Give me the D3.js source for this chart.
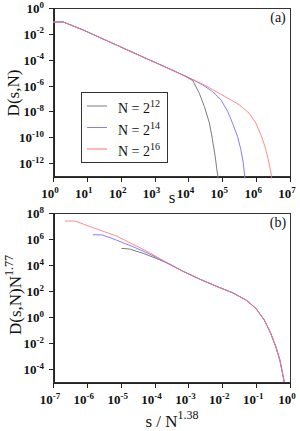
<!DOCTYPE html>
<html lang="en">
  <head>
    <meta charset="UTF-8" />
    <title>D(s,N)</title>
    <style>
        body { margin: 0; background: #fff; }
        svg { display: block; font-family: "Liberation Serif", "DejaVu Serif", serif; }
        .axis path, .axis line { stroke: #222; stroke-width: 1; shape-rendering: crispEdges; }
        .frame { fill: none; stroke: #333; stroke-width: 1; shape-rendering: crispEdges; }
        .curve { fill: none; stroke-width: 1; }
    </style>
    <script src="https://d3js.org/d3.v7.min.js"></script>
  </head>
  <body>
    <div id="chart"></div>
    <script>
        // values, as [log10 x, log10 y]
        const seriesNames = ["N = 2^12", "N = 2^14", "N = 2^16"];
        const seriesExp = ["12", "14", "16"];
        const seriesColors = ["#7c7c7c", "#7f7fff", "#ff7070"];

        const topGray = [[0,-1.08],[0.30,-1.08],[0.89,-1.70],[1.87,-2.86],[2.85,-4.02],[3.44,-4.71],[3.88,-5.24],
                         [4.13,-5.62],[4.32,-6.59],[4.47,-7.62],[4.62,-8.90],[4.71,-10.19],[4.79,-11.48],[4.84,-12.51],[4.88,-13.2]];
        const topBlue = [[0,-1.08],[0.30,-1.08],[0.89,-1.70],[1.87,-2.86],[2.85,-4.02],[3.44,-4.71],[3.88,-5.24],
                         [4.13,-5.54],[4.42,-5.95],[4.71,-6.46],[4.96,-7.10],[5.16,-8.01],[5.30,-8.90],[5.45,-9.93],[5.55,-10.97],[5.62,-11.99],[5.67,-13.2]];
        const topRed  = [[0,-1.08],[0.30,-1.08],[0.89,-1.70],[1.87,-2.86],[2.85,-4.02],[3.44,-4.71],[3.88,-5.24],
                         [4.13,-5.54],[4.42,-5.90],[4.71,-6.30],[5.11,-6.90],[5.50,-7.49],[5.79,-8.13],[5.99,-8.90],[6.14,-9.81],[6.26,-10.71],[6.36,-11.74],[6.43,-12.64],[6.46,-13.2]];

        const botGray = [[-4.98,5.28],[-4.74,5.23],[-4.34,4.90],[-3.95,4.51],[-3.58,4.10],[-3.17,3.52],
                         [-2.68,2.93],[-2.19,2.38],[-1.70,1.87],[-1.30,1.31],[-1.01,0.67],[-0.76,-0.23],[-0.57,-1.25],[-0.42,-2.28],[-0.30,-3.31],[-0.22,-4.33],[-0.17,-5.0]];
        const botBlue = [[-5.82,6.33],[-5.54,6.31],[-5.13,5.92],[-4.64,5.41],[-4.15,4.85],[-3.66,4.18],[-3.17,3.53],
                         [-2.68,2.93],[-2.19,2.38],[-1.70,1.87],[-1.30,1.31],[-1.01,0.67],[-0.76,-0.23],[-0.57,-1.25],[-0.42,-2.28],[-0.30,-3.31],[-0.22,-4.33],[-0.17,-5.0]];
        const botRed  = [[-6.65,7.38],[-6.35,7.38],[-6.11,7.15],[-5.62,6.69],[-5.13,6.23],[-4.64,5.60],[-4.15,4.95],[-3.66,4.22],[-3.17,3.54],
                         [-2.68,2.93],[-2.19,2.38],[-1.70,1.87],[-1.30,1.31],[-1.01,0.67],[-0.76,-0.23],[-0.57,-1.25],[-0.42,-2.28],[-0.30,-3.31],[-0.22,-4.33],[-0.17,-5.0]];

        const topXTicks = [0,1,2,3,4,5,6,7];
        const topYTicks = [0,-2,-4,-6,-8,-10,-12];
        const botXTicks = [-7,-6,-5,-4,-3,-2,-1,0];
        const botYTicks = [8,6,4,2,0,-2,-4];

        const width = 300, height = 431;
        const svg = d3.select("#chart").append("svg")
                    .attr("width", width).attr("height", height);

        function supText(g, x, y, base, exp, size, supSize, anchor, bold) {
            const t = g.append("text")
                .attr("x", x).attr("y", y)
                .attr("text-anchor", anchor)
                .style("font-size", size + "px")
                .style("font-weight", bold ? "bold" : "normal")
                .attr("fill", "#111");
            t.append("tspan").text(base);
            t.append("tspan").attr("dy", -size * 0.42).style("font-size", supSize + "px").text(exp);
            return t;
        }

        function panel(opt) {
            const x = d3.scaleLog().domain(opt.xDomain).range([53, 290]);
            const y = d3.scaleLog().domain(opt.yDomain).range([opt.bottom, opt.top]);
            const g = svg.append("g");

            g.append("rect").attr("class", "frame")
                .attr("x", 53.5).attr("y", opt.top + 0.5)
                .attr("width", 290 - 53).attr("height", opt.bottom - opt.top);

            g.append("g").attr("class", "axis")
                .attr("transform", `translate(0,${opt.bottom + 0.5})`)
                .call(d3.axisBottom(x).tickValues(opt.xTicks.map(d => 10 ** d)).tickSize(5).tickSizeOuter(0).tickFormat(""));
            g.append("g").attr("class", "axis")
                .attr("transform", "translate(53.5,0)")
                .call(d3.axisLeft(y).tickValues(opt.yTicks.map(d => 10 ** d)).tickSize(5).tickSizeOuter(0).tickFormat(""));

            opt.xTicks.forEach(e => supText(g, x(10 ** e) - 3, opt.bottom + 22, "10", String(e), 13, 9, "middle", true));
            opt.yTicks.forEach(e => supText(g, 44, y(10 ** e) + 5, "10", String(e), 13, 9, "end", true));

            const line = d3.line()
                .x(d => x(10 ** d[0]))
                .y(d => y(10 ** d[1]));
            opt.series.forEach((s, i) => {
                g.append("path").attr("class", "curve")
                    .attr("d", line(s))
                    .attr("stroke", seriesColors[i])
                    .attr("stroke-opacity", i === 2 ? 0.8 : 1);
            });

            g.append("text").attr("x", 278).attr("y", opt.top + 14)
                .attr("text-anchor", "middle").style("font-size", "14px").attr("fill", "#111")
                .text(opt.tag);
            return g;
        }

        panel({
            xDomain: [1, 1e7], yDomain: [1e-13, 1], top: 8, bottom: 176,
            xTicks: topXTicks, yTicks: topYTicks,
            series: [topGray, topBlue, topRed], tag: "(a)"
        });
        panel({
            xDomain: [1e-7, 1], yDomain: [1e-5, 1e8], top: 213, bottom: 382,
            xTicks: botXTicks, yTicks: botYTicks,
            series: [botGray, botBlue, botRed], tag: "(b)"
        });

        // axis titles
        svg.append("text").attr("x", 172).attr("y", 203)
            .attr("text-anchor", "middle").style("font-size", "17px").attr("fill", "#111").text("s");
        svg.append("text").attr("transform", "translate(19,93) rotate(-90)")
            .attr("text-anchor", "middle").style("font-size", "17px").attr("fill", "#111").text("D(s,N)");

        const xt = svg.append("text").attr("x", 172).attr("y", 427)
            .attr("text-anchor", "middle").style("font-size", "17px").attr("fill", "#111");
        xt.append("tspan").text("s / N");
        xt.append("tspan").attr("dy", -8).style("font-size", "12px").text("1.38");

        const yt = svg.append("text").attr("transform", "translate(21,295) rotate(-90)")
            .attr("text-anchor", "middle").style("font-size", "17px").attr("fill", "#111");
        yt.append("tspan").text("D(s,N)N");
        yt.append("tspan").attr("dy", -8).style("font-size", "12px").text("1.77");

        // legend
        const leg = svg.append("g");
        leg.append("rect").attr("x", 81.5).attr("y", 92.5).attr("width", 86).attr("height", 70)
            .attr("fill", "#fff").attr("stroke", "#333").style("shape-rendering", "crispEdges");
        seriesNames.forEach((n, i) => {
            const ly = 106 + i * 21.5;
            leg.append("line").attr("x1", 87).attr("x2", 107).attr("y1", ly).attr("y2", ly)
                .attr("stroke", seriesColors[i]).attr("stroke-width", 1);
            supText(leg, 118, ly + 7, "N = 2", seriesExp[i], 14, 10, "start", false);
        });
    </script>
  </body>
</html>
